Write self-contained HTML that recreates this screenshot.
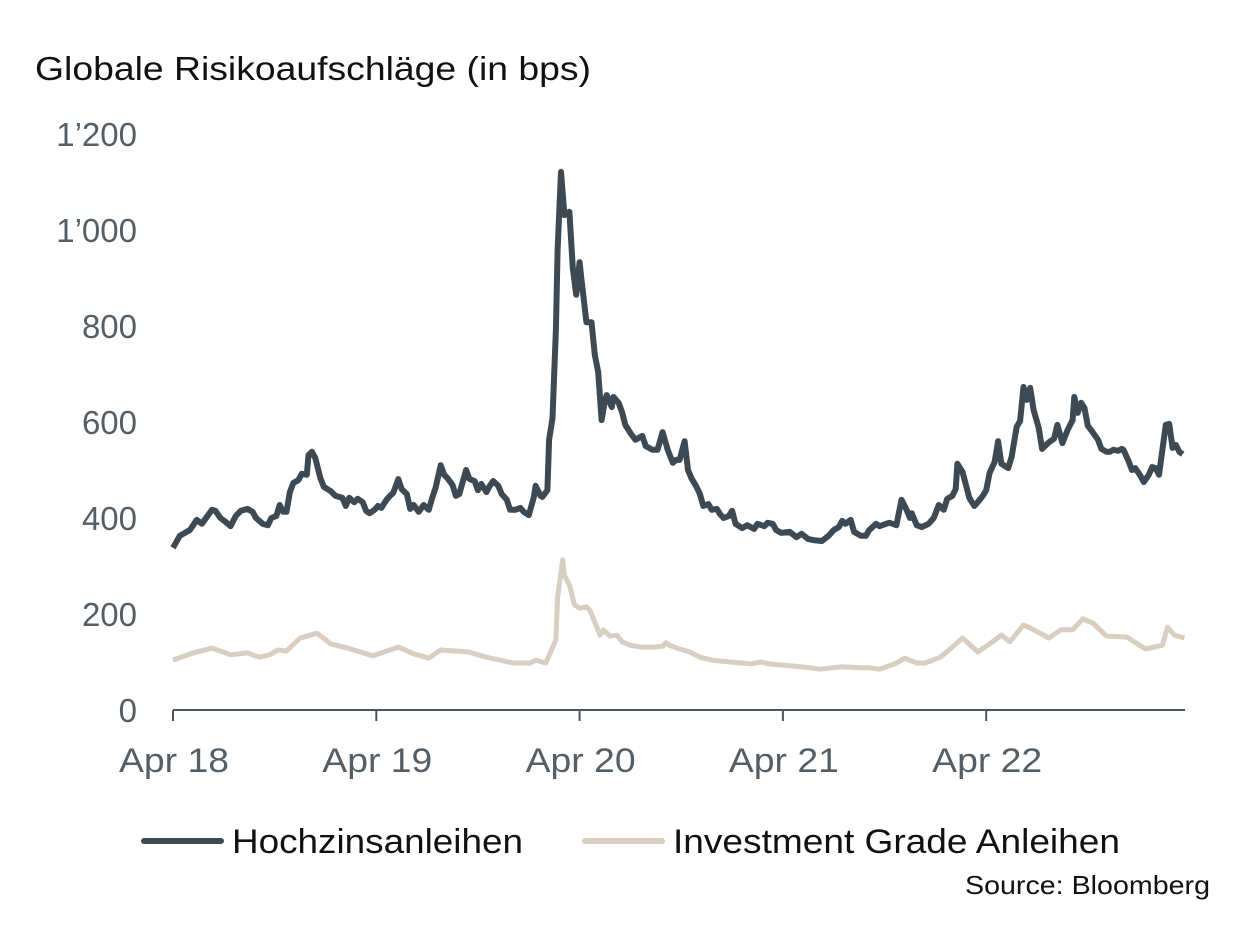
<!DOCTYPE html>
<html><head><meta charset="utf-8"><style>
html,body{margin:0;padding:0;background:#fff;}
svg{display:block;font-family:"Liberation Sans",sans-serif;}
</style></head><body>
<svg id="chart" width="1249" height="949" viewBox="0 0 1249 949">
<text x="35" y="80" font-size="33" fill="#111" textLength="556" lengthAdjust="spacingAndGlyphs">Globale Risikoaufschläge (in bps)</text>
<g id="yaxis"></g>
<g id="xaxis"></g>
<g id="series"></g>
<g>
<g>
<line x1="144" y1="841" x2="221" y2="841" stroke="#3d4a54" stroke-width="6" stroke-linecap="round"/>
<text x="232" y="853" font-size="34" fill="#111" textLength="291" lengthAdjust="spacingAndGlyphs">Hochzinsanleihen</text></g>
<g>
<line x1="585" y1="841" x2="662" y2="841" stroke="#d8cfc2" stroke-width="6" stroke-linecap="round"/>
<text x="673" y="853" font-size="34" fill="#111" textLength="447" lengthAdjust="spacingAndGlyphs">Investment Grade Anleihen</text></g>
</g>
<text x="1210" y="894" font-size="26" fill="#111" text-anchor="end" textLength="245" lengthAdjust="spacingAndGlyphs">Source: Bloomberg</text>
</svg>
<script>
const yTicks=[0,200,400,600,800,1000,1200];
const yTickLabels=["0","200","400","600","800","1’000","1’200"];
const xTickMonths=[0,12,24,36,48];
const xTickLabels=["Apr 18","Apr 19","Apr 20","Apr 21","Apr 22"];
const hyMonths=[0,0.4,1.0,1.4,1.7,2.3,2.5,2.8,3.1,3.4,3.7,4.0,4.4,4.7,4.9,5.3,5.6,5.8,6.1,6.3,6.5,6.7,6.9,7.1,7.4,7.6,7.9,8.0,8.2,8.4,8.7,8.9,9.3,9.6,10.0,10.2,10.4,10.7,10.9,11.2,11.4,11.6,11.9,12.1,12.3,12.6,12.8,13.0,13.3,13.5,13.8,14.0,14.2,14.5,14.8,15.1,15.3,15.5,15.8,16.0,16.2,16.5,16.7,16.9,17.3,17.5,17.8,18.0,18.2,18.5,18.7,18.9,19.2,19.4,19.7,19.9,20.2,20.5,20.7,21.0,21.3,21.4,21.7,21.8,22.1,22.2,22.4,22.6,22.7,22.9,23.1,23.4,23.6,23.8,24.0,24.1,24.4,24.7,24.9,25.1,25.3,25.5,25.6,25.9,26.0,26.3,26.5,26.7,27.0,27.3,27.7,27.9,28.3,28.6,28.9,29.2,29.5,29.7,29.9,30.2,30.4,30.6,30.9,31.1,31.3,31.6,31.8,32.1,32.3,32.5,32.8,33.0,33.2,33.6,33.9,34.3,34.5,34.9,35.1,35.4,35.6,35.9,36.4,36.8,37.1,37.5,37.8,38.3,38.7,39.0,39.3,39.5,39.7,40.0,40.2,40.6,40.9,41.1,41.5,41.7,42.1,42.3,42.7,43.0,43.3,43.5,43.6,43.9,44.2,44.6,44.9,45.2,45.5,45.7,46.0,46.2,46.3,46.6,46.8,47.0,47.3,47.5,47.8,48.0,48.2,48.5,48.7,48.9,49.3,49.5,49.8,50.0,50.2,50.4,50.6,50.8,51.1,51.3,51.7,52.0,52.2,52.5,52.8,53.1,53.2,53.4,53.6,53.8,54.0,54.2,54.6,54.8,55.1,55.3,55.5,55.8,56.0,56.1,56.4,56.6,56.8,57.1,57.3,57.6,57.8,58.0,58.2,58.4,58.6,58.8,59.0,59.2,59.4,59.6];
const hyValues=[338,363,375,396,388,417,415,400,392,383,404,415,419,413,400,388,385,400,404,427,413,413,454,473,479,492,490,531,538,525,483,465,456,446,442,425,442,433,440,433,415,410,417,425,421,438,446,452,481,460,450,419,427,413,427,417,442,463,510,490,483,469,446,450,500,481,477,458,471,454,467,477,467,450,438,417,417,421,413,406,444,467,446,444,458,563,608,792,958,1121,1031,1038,921,865,933,900,808,808,740,704,604,646,656,631,652,640,621,594,577,563,571,550,542,542,579,542,515,521,521,560,500,483,465,450,425,429,417,419,408,400,404,415,388,379,385,377,388,383,390,388,375,369,371,360,367,356,354,352,363,375,381,394,388,396,371,363,363,375,388,383,388,390,385,438,417,400,410,385,381,388,400,427,417,440,446,460,513,496,469,442,425,433,446,458,494,517,560,513,504,527,590,602,673,646,671,625,588,544,558,565,594,556,583,604,652,619,640,629,592,583,563,544,538,538,542,540,544,542,519,500,504,488,475,490,506,504,490,542,594,596,546,552,538,533];
const igMonths=[0,1.2,2.3,3.4,4.4,5.1,5.7,6.2,6.7,7.5,8.5,9.3,10.3,11.8,13.3,14.2,15.1,15.8,17.4,18.5,20.1,21.1,21.4,22.0,22.6,22.7,23.0,23.1,23.4,23.7,24.0,24.4,24.6,24.9,25.2,25.4,25.8,26.2,26.5,27.0,27.6,28.3,28.9,29.1,29.3,29.9,30.5,31.1,31.8,32.9,34.1,34.7,35.2,36.4,37.6,38.2,39.4,40.6,41.1,41.7,42.6,43.2,43.9,44.4,45.3,46.0,46.6,47.5,48.1,48.9,49.4,50.2,50.6,51.7,52.4,53.1,53.7,54.3,55.1,56.3,57.4,58.4,58.7,59.1,59.7];
const igValues=[104,119,129,115,119,110,115,125,123,150,160,138,129,113,131,117,108,125,121,110,98,98,104,98,146,235,313,281,260,219,212,215,208,183,156,167,154,156,142,135,131,131,133,140,135,127,121,110,104,100,96,100,96,92,88,85,90,88,88,85,96,108,98,98,110,131,150,121,135,156,142,177,171,150,167,167,190,181,154,152,127,135,173,156,150];

const NS="http://www.w3.org/2000/svg";
const X0=173,PXM=203.3/12,Y0=710,PXV=0.48;
function xScale(m){return X0+m*PXM;}
function yScale(v){return Y0-v*PXV;}
function mk(tag,attrs,parent){const e=document.createElementNS(NS,tag);for(const k in attrs)e.setAttribute(k,attrs[k]);parent.appendChild(e);return e;}
const ya=document.getElementById('yaxis'),xa=document.getElementById('xaxis'),sg=document.getElementById('series');
yTicks.forEach((t,i)=>{
  const el=mk('text',{x:137,y:yScale(t)+12,'font-size':33,fill:'#545e67','text-anchor':'end'},ya);
  el.textContent=yTickLabels[i];
  
  
});
const axl=mk('line',{x1:X0,y1:Y0,x2:1185,y2:Y0,stroke:'#4a5560','stroke-width':2},xa);


xTickMonths.forEach((m,i)=>{
  const tk=mk('line',{x1:xScale(m),y1:Y0,x2:xScale(m),y2:Y0+11,stroke:'#4a5560','stroke-width':2},xa);
  
  
  const el=mk('text',{x:xScale(m)+1,y:772,'font-size':34,fill:'#545e67','text-anchor':'middle',textLength:110,lengthAdjust:'spacingAndGlyphs'},xa);
  el.textContent=xTickLabels[i];
  
  
});
function pathD(ms,vs){return ms.map((m,i)=>(i?'L':'M')+xScale(m).toFixed(1)+','+yScale(vs[i]).toFixed(1)).join('');}
const ig=mk('path',{d:pathD(igMonths,igValues),fill:'none',stroke:'#d8cfc2','stroke-width':5,'stroke-linejoin':'round'},sg);


const hy=mk('path',{d:pathD(hyMonths,hyValues),fill:'none',stroke:'#3d4a54','stroke-width':6,'stroke-linejoin':'round'},sg);


</script>
</body></html>
